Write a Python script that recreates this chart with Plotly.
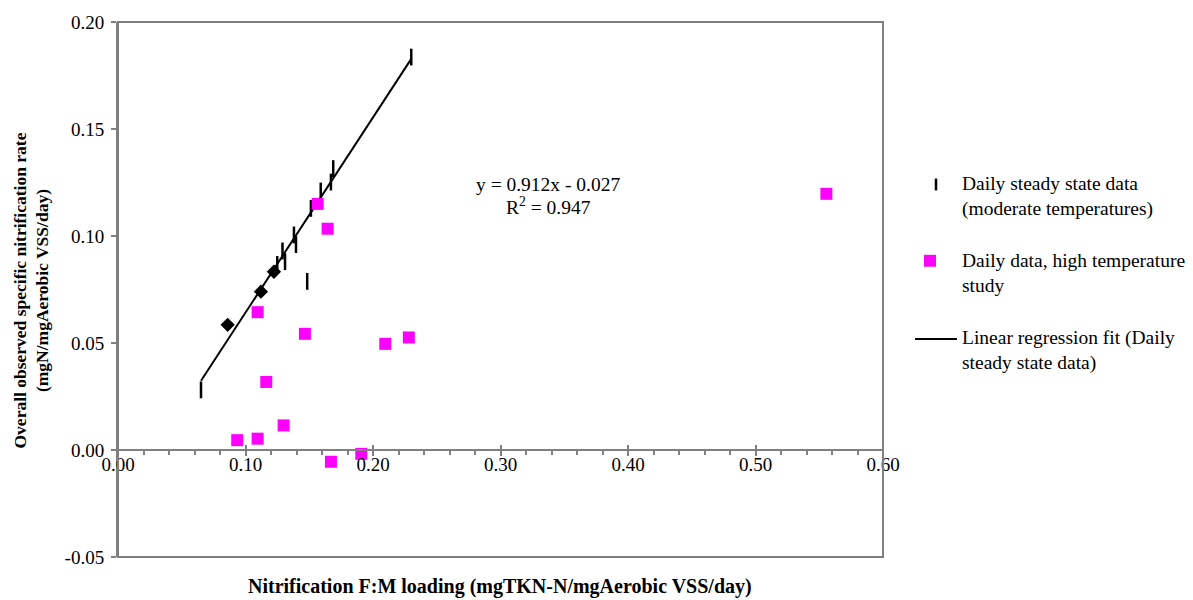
import plotly.graph_objects as go

# ---------------- data ----------------
steady_x = [0.0651, 0.1249, 0.129, 0.131, 0.138, 0.1396, 0.1484, 0.1513, 0.159, 0.167, 0.1688, 0.230]
steady_y = [0.0281, 0.0867, 0.093, 0.088, 0.1005, 0.096, 0.0788, 0.1129, 0.121, 0.1252, 0.1315, 0.1836]

diamond_x = [0.086, 0.1121, 0.1223]
diamond_y = [0.0585, 0.0740, 0.0833]

high_x = [0.0935, 0.1095, 0.1095, 0.1163, 0.1299, 0.1466, 0.1566, 0.1644, 0.167, 0.1908, 0.2096, 0.2281, 0.5556]
high_y = [0.0046, 0.0053, 0.0644, 0.0318, 0.0115, 0.0543, 0.115, 0.1034, -0.0055, -0.0018, 0.0496, 0.0526, 0.1197]

slope = 0.912
intercept = -0.027
r2 = 0.947

x_ticks = [0.0, 0.1, 0.2, 0.3, 0.4, 0.5, 0.6]
y_ticks = [-0.05, 0.0, 0.05, 0.10, 0.15, 0.20]

legend_labels = ["Daily steady state data<br>(moderate temperatures)",
                 "Daily data, high temperature<br>study",
                 "Linear regression fit (Daily<br>steady state data)"]

FONT = "Liberation Serif"
W, H = 1193, 600
L, R, T, B = 118, 883, 17, 557  # plot area in pixels


def px(xp):
    return (xp - L) / (R - L)


def py(yp):
    return (B - yp) / (B - T)


fit_x = [min(steady_x), max(steady_x)]
fit_y = [slope * v + intercept for v in fit_x]

fig = go.Figure()

fig.add_trace(go.Scatter(x=fit_x, y=fit_y, mode="lines",
                         line=dict(color="black", width=2), showlegend=False))
fig.add_trace(go.Scatter(x=steady_x, y=steady_y, mode="markers",
                         marker=dict(symbol="line-ns", size=12,
                                     line=dict(color="black", width=2.5)),
                         showlegend=False))
fig.add_trace(go.Scatter(x=diamond_x, y=diamond_y, mode="markers",
                         marker=dict(symbol="diamond", size=11, color="black"),
                         showlegend=False))
fig.add_trace(go.Scatter(x=high_x, y=high_y, mode="markers",
                         marker=dict(symbol="square", size=12, color="#FF00FF"),
                         showlegend=False))
# overlay axis for the upward half of major x ticks
fig.add_trace(go.Scatter(x=[None], y=[None], xaxis="x2", showlegend=False))

zero_pos = (0 - y_ticks[0]) / (y_ticks[-1] - y_ticks[0])

fig.update_layout(
    width=W, height=H,
    margin=dict(l=L, r=W - R, t=T, b=H - B),
    plot_bgcolor="white", paper_bgcolor="white",
    font=dict(family=FONT, size=19, color="black"),
    xaxis=dict(range=[x_ticks[0], x_ticks[-1]], tickvals=x_ticks,
               ticktext=[f"{v:.2f}" for v in x_ticks],
               anchor="free", position=zero_pos,
               showline=True, linecolor="#808080", linewidth=2,
               ticks="outside", ticklen=5, tickwidth=2, tickcolor="#808080",
               minor=dict(dtick=0.02, tick0=0, ticks="outside", ticklen=4,
                          tickwidth=1.5, tickcolor="#808080", showgrid=False),
               showgrid=False, zeroline=False,
               ticklabelstandoff=-8,
               tickfont=dict(family=FONT, size=19)),
    xaxis2=dict(range=[x_ticks[0], x_ticks[-1]], tickvals=x_ticks,
                overlaying="x", anchor="free", position=zero_pos,
                showline=False, ticks="inside", ticklen=5, tickwidth=2,
                tickcolor="#808080", showticklabels=False, showgrid=False,
                zeroline=False),
    yaxis=dict(range=[y_ticks[0], y_ticks[-1]], tickvals=y_ticks,
               ticktext=[f"{v:.2f}" for v in y_ticks],
               showline=True, linecolor="#808080", linewidth=2,
               ticks="outside", ticklen=5, tickwidth=2, tickcolor="#808080",
               showgrid=False, zeroline=False,
               ticklabelstandoff=3,
               tickfont=dict(family=FONT, size=19)),
    showlegend=False,
)

# plot border
fig.add_shape(type="rect", xref="paper", yref="paper", x0=0, y0=0, x1=1, y1=1,
              line=dict(color="#808080", width=2))

ann = []
ann.append(dict(text=f"y = {slope:.3f}x - {abs(intercept):.3f}", x=px(548), y=py(181)))
ann.append(dict(text=f"R<sup>2</sup> = {r2:.3f}", x=px(548), y=py(203)))
for a in ann:
    fig.add_annotation(xref="paper", yref="paper", showarrow=False,
                       xanchor="center", yanchor="middle",
                       font=dict(family=FONT, size=19.5, color="black"), **a)

# axis titles
fig.add_annotation(xref="paper", yref="paper", x=px(500), y=py(587), showarrow=False,
                   text="<b>Nitrification F:M loading (mgTKN-N/mgAerobic VSS/day)</b>",
                   font=dict(family=FONT, size=20), xanchor="center", yanchor="middle")
fig.add_annotation(xref="paper", yref="paper", x=px(31), y=py(288), showarrow=False,
                   text="<b>Overall observed specific nitrification rate<br>(mgN/mgAerobic VSS/day)</b>",
                   font=dict(family=FONT, size=17.5), textangle=-90,
                   xanchor="center", yanchor="middle")

# legend (drawn manually)
legend_y = [193, 270, 349]
text_x = 960
for lab, ly in zip(legend_labels, legend_y):
    fig.add_annotation(xref="paper", yref="paper", x=px(text_x), y=py(ly),
                       showarrow=False, text=lab, align="left",
                       xanchor="left", yanchor="middle",
                       font=dict(family=FONT, size=19.5, color="black"))
fig.add_shape(type="line", xref="paper", yref="paper",
              x0=px(936), x1=px(936), y0=py(175), y1=py(187),
              line=dict(color="black", width=2.5))
fig.add_shape(type="rect", xref="paper", yref="paper",
              x0=px(924), x1=px(936), y0=py(252), y1=py(264),
              line=dict(width=0), fillcolor="#FF00FF")
fig.add_shape(type="line", xref="paper", yref="paper",
              x0=px(915), x1=px(957), y0=py(337), y1=py(337),
              line=dict(color="black", width=2))

fig.write_html("out.html")
